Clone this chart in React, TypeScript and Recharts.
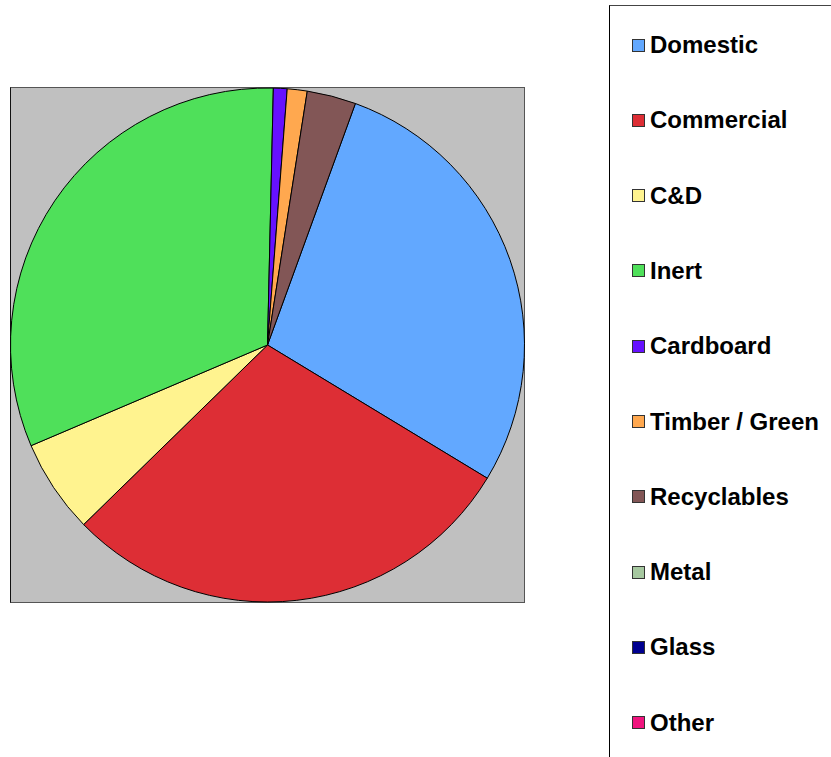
import React from "react";
import { PieChart, Pie, Cell } from "recharts";

const categories = ["Domestic", "Commercial", "C&D", "Inert", "Cardboard", "Timber / Green", "Recyclables", "Metal", "Glass", "Other"];
const values = [28.1, 29.0, 5.9, 31.75, 0.86, 1.25, 3.08, 0, 0, 0];
const colors = ["#62A8FF", "#DD2E35", "#FFF38F", "#4FE05A", "#6611FF", "#FFA84F", "#825656", "#A6C8A0", "#000090", "#F0147E"];

const data = categories.map((name, i) => ({ name, value: values[i] }));

export default function App() {
  return (
    <div style={{ position: "absolute", left: 0, top: 0, width: 831, height: 757, overflow: "hidden", background: "#fff", fontFamily: "'Liberation Sans', Arial, sans-serif" }}>
      <div style={{ position: "absolute", left: 10, top: 87, width: 515, height: 516, background: "#C0C0C0", borderLeft: "1px solid #111", borderTop: "1px solid #555", borderRight: "1px solid #555", borderBottom: "1px solid #555", boxSizing: "border-box" }} />
      <div style={{ position: "absolute", left: 0, top: 0 }}>
        <PieChart width={831} height={757} margin={{ top: 0, right: 0, bottom: 0, left: 0 }}>
          <Pie
            data={data}
            dataKey="value"
            nameKey="name"
            cx={267.5}
            cy={345}
            outerRadius={257}
            innerRadius={0}
            startAngle={70}
            endAngle={-290}
            stroke="#000"
            strokeWidth={1}
            paddingAngle={0}
            isAnimationActive={false}
            label={false}
            labelLine={false}
          >
            {data.map((d, i) => (
              <Cell key={d.name} fill={colors[i]} />
            ))}
          </Pie>
        </PieChart>
      </div>
      <div style={{ position: "absolute", left: 609, top: 5, width: 240, height: 780, borderLeft: "1px solid #000", borderTop: "1px solid #444", boxSizing: "border-box" }} />
      {categories.map((name, i) => (
        <div key={name} style={{ position: "absolute", left: 632, top: 45 + i * 75.3 - 14, height: 28, display: "flex", alignItems: "center", whiteSpace: "nowrap" }}>
          <div style={{ width: 13, height: 13, background: colors[i], border: "1px solid #333", boxSizing: "border-box", marginRight: 5 }} />
          <span style={{ fontSize: 24, fontWeight: "bold", color: "#000" }}>{name}</span>
        </div>
      ))}
    </div>
  );
}
